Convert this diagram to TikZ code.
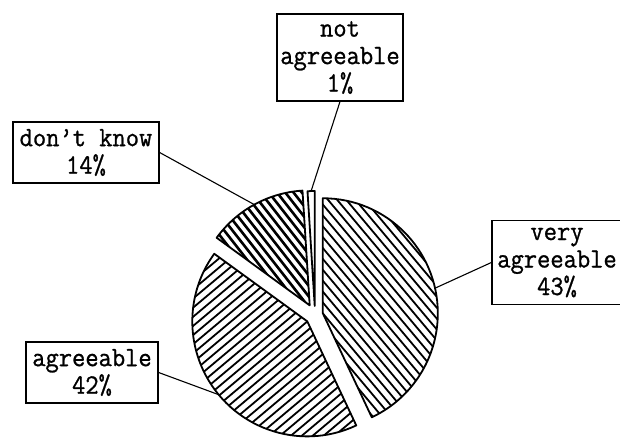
\documentclass[tikz,border=0pt]{standalone}
\usepackage{fontspec}
\newfontfamily\chartfont[FakeStretch=0.92,FakeBold=0.9]{Latin Modern Mono}
\usetikzlibrary{calc}

\begin{document}
\begin{tikzpicture}[x=1pt, y=1pt,
    slice/.style={draw=black, line width=1.8pt, line join=round},
    hatch/.style={draw=black, line width=1.8pt},
    leader/.style={draw=black, line width=1.1pt},
    labelbox/.style={rectangle, draw=black, line width=1.3pt, fill=white, align=center,
        inner xsep=3pt, inner ysep=7pt, font=\chartfont\fontsize{28}{27.5}\selectfont}
]
\useasboundingbox (0,0) rectangle (620,440);

% === Pastel (centro y porciones separadas) ===
\coordinate (c) at (315,125);
\coordinate (va) at ($(c)+(12.6:8)$);
\coordinate (ag) at ($(c)+(219.6:10)$);
\coordinate (dk) at ($(c)+(118.8:11)$);
\coordinate (na) at ($(c)+(91.8:9)$);

% very agreeable 43%
\begin{scope}
    \clip (va) -- ++(90:115) arc[start angle=90, end angle=-64.8, radius=115] -- cycle;
    \begin{scope}[shift={(c)}, rotate=-50]
        \foreach \k in {-20,...,20}
            \draw[hatch] (-140,\k*7) -- (140,\k*7);
    \end{scope}
\end{scope}
\draw[slice] (va) -- ++(90:115) arc[start angle=90, end angle=-64.8, radius=115] -- cycle;

% agreeable 42%
\begin{scope}
    \clip (ag) -- ++(-64.8:115) arc[start angle=-64.8, end angle=-216, radius=115] -- cycle;
    \begin{scope}[shift={(c)}, rotate=40]
        \foreach \k in {-20,...,20}
            \draw[hatch] (-140,\k*7) -- (140,\k*7);
    \end{scope}
\end{scope}
\draw[slice] (ag) -- ++(-64.8:115) arc[start angle=-64.8, end angle=-216, radius=115] -- cycle;

% don't know 14%
\begin{scope}
    \clip (dk) -- ++(144:115) arc[start angle=144, end angle=93.6, radius=115] -- cycle;
    \begin{scope}[shift={(c)}, rotate=-52]
        \foreach \k in {-22,...,22}
            \draw[hatch, line width=2.6pt] (-140,\k*6.5) -- (140,\k*6.5);
    \end{scope}
\end{scope}
\draw[slice] (dk) -- ++(144:115) arc[start angle=144, end angle=93.6, radius=115] -- cycle;

% not agreeable 1%
\draw[slice, fill=white] (na) -- ++(93.6:115) arc[start angle=93.6, end angle=90, radius=115] -- cycle;

% puntos de las líneas guía sobre el borde
\coordinate (vaend) at ($(va)+(12.6:115)$);
\coordinate (agend) at ($(ag)+(219.6:115)$);
\coordinate (dkend) at ($(dk)+(118.8:115)$);
\coordinate (naend) at ($(na)+(91.8:115)$);

% === Etiquetas ===
\node[labelbox, minimum width=126] (notagr) at (340,382.5) {not\\agreeable\\1\%};
\node[labelbox, minimum width=146] (dontknow) at (86,287.5) {don’t know\\14\%};
\node[labelbox, minimum width=130] (veryagr) at (557,177.5) {very\\agreeable\\43\%};
\node[labelbox, minimum width=132] (agr) at (92,67.5) {agreeable\\42\%};

\draw[leader] (notagr.south) -- (naend);
\draw[leader] (dontknow.east) -- (dkend);
\draw[leader] (veryagr.west) -- (vaend);
\draw[leader] (agr.east) -- (agend);

\end{tikzpicture}
\end{document}
